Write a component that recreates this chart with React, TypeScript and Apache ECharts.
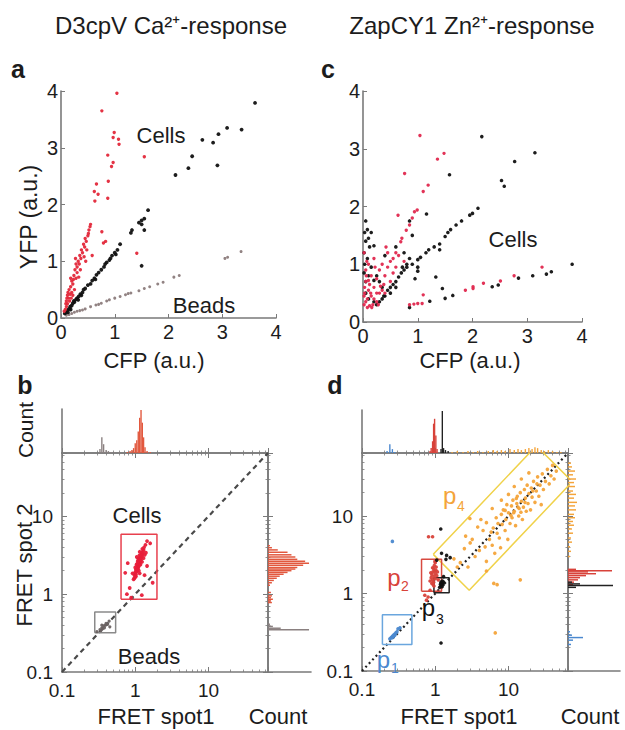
import React, { useEffect, useRef } from "react";
import * as echarts from "echarts";

const FONT = "'Liberation Sans', Arial, Helvetica, sans-serif";
const AX = "#7a7a7a";
const TXT = "#1c1c1c";

// ---------- Panel a: D3cpV, YFP vs CFP ----------
const A_RED: number[][] = [
  [1.04, 3.96], [0.76, 3.65], [0.99, 3.27], [0.97, 3.18], [1.07, 3.15], [1.08, 3.06], [1.55, 2.84],
  [0.87, 2.87], [0.97, 2.74], [0.94, 2.67], [0.66, 2.36], [0.88, 2.41], [0.62, 2.23], [0.69, 2.18],
  [0.63, 2.06], [0.87, 2.11], [0.54, 1.61], [0.51, 1.49], [0.76, 1.52], [0.79, 1.32], [0.83, 1.35],
  [1.41, 1.14], [0.55, 1.65], [0.52, 1.55], [0.5, 1.45], [0.48, 1.2], [0.47, 1.35], [0.45, 1.4],
  [0.44, 1.25], [0.42, 1.3], [0.4, 1.15], [0.38, 1.2], [0.37, 1.05], [0.35, 1.1], [0.36, 0.85],
  [0.34, 0.95], [0.32, 1.0], [0.3, 0.9], [0.3, 0.8], [0.28, 0.7], [0.28, 0.95], [0.27, 1.05],
  [0.26, 0.85], [0.25, 0.5], [0.24, 0.75], [0.22, 0.6], [0.22, 0.4], [0.2, 0.65], [0.2, 0.45],
  [0.18, 0.55], [0.18, 0.7], [0.16, 0.3], [0.15, 0.5], [0.14, 0.35], [0.13, 0.45], [0.12, 0.4],
  [0.12, 0.25], [0.1, 0.3], [0.1, 0.2], [0.09, 0.25], [0.08, 0.15], [0.06, 0.12], [0.11, 0.35],
  [0.17, 0.42], [0.23, 0.68], [0.33, 0.72], [0.43, 1.08], [0.46, 1.0], [0.58, 1.1], [0.19, 0.35],
];
const A_BLACK: number[][] = [
  [0.07, 0.08], [0.1, 0.1], [0.12, 0.14], [0.13, 0.1], [0.15, 0.16], [0.17, 0.2], [0.18, 0.15],
  [0.2, 0.22], [0.22, 0.26], [0.24, 0.3], [0.25, 0.28], [0.28, 0.33], [0.3, 0.35], [0.32, 0.32],
  [0.33, 0.38], [0.36, 0.42], [0.38, 0.4], [0.4, 0.45], [0.42, 0.5], [0.45, 0.52], [0.5, 0.58],
  [0.55, 0.6], [0.58, 0.66], [0.62, 0.7], [0.66, 0.76], [0.7, 0.8], [0.75, 0.85], [0.8, 0.9],
  [0.85, 0.98], [0.9, 1.02], [0.95, 1.1], [1.0, 1.15], [1.05, 1.2], [1.1, 1.3], [1.3, 1.5],
  [1.32, 1.55], [1.45, 1.68], [1.5, 1.72], [1.55, 1.75], [1.62, 1.9], [1.5, 1.65], [1.55, 1.55],
  [1.5, 0.92], [0.64, 0.68], [0.82, 0.95], [0.92, 1.05], [1.02, 1.12], [2.13, 2.52], [2.37, 2.64],
  [2.44, 2.85], [2.63, 3.14], [2.83, 3.09], [2.93, 3.24], [2.91, 2.69], [3.09, 3.35], [3.36, 3.32],
  [3.61, 3.79],
];
const A_BEADS: number[][] = [
  [0.1, 0.05], [0.15, 0.06], [0.2, 0.08], [0.25, 0.1], [0.3, 0.12], [0.35, 0.13], [0.4, 0.14],
  [0.45, 0.16], [0.55, 0.2], [0.65, 0.23], [0.7, 0.24], [0.75, 0.26], [0.85, 0.3], [0.9, 0.32],
  [1.0, 0.35], [1.1, 0.38], [1.2, 0.41], [1.25, 0.43], [1.3, 0.44], [1.45, 0.48], [1.55, 0.52],
  [1.65, 0.55], [1.8, 0.6], [1.9, 0.63], [2.1, 0.72], [2.2, 0.75], [3.05, 1.05], [3.1, 1.07],
  [3.35, 1.17],
];

// ---------- Panel c: ZapCY1, YFP vs CFP ----------
const C_RED: number[][] = [
  [1.04, 3.23], [1.48, 2.92], [1.36, 2.82], [0.76, 2.57], [1.19, 2.37], [1.1, 2.26], [0.99, 1.94],
  [0.94, 1.91], [0.64, 1.85], [0.9, 1.8], [0.85, 1.68], [0.79, 1.59], [0.69, 1.39], [0.71, 1.45],
  [3.27, 0.95], [2.76, 0.8], [2.51, 0.71], [2.2, 0.67], [2.01, 0.61], [2.01, 0.58], [1.87, 0.55],
  [1.1, 0.47], [1.08, 0.32], [1.0, 0.32], [0.93, 0.31], [0.85, 0.3], [0.02, 0.3], [0.05, 0.35],
  [0.08, 0.4], [0.03, 0.5], [0.1, 0.55], [0.15, 0.45], [0.2, 0.4], [0.25, 0.35], [0.12, 0.65],
  [0.05, 0.7], [0.2, 0.6], [0.3, 0.5], [0.35, 0.55], [0.4, 0.5], [0.15, 0.8], [0.25, 0.75],
  [0.05, 0.9], [0.1, 1.0], [0.3, 0.9], [0.4, 0.8], [0.45, 0.95], [0.5, 1.05], [0.55, 1.1],
  [0.35, 1.0], [0.2, 1.1], [0.02, 1.2], [0.08, 0.25], [0.18, 0.3], [0.28, 0.3], [0.12, 0.28],
  [0.5, 0.7], [0.55, 0.85], [0.6, 1.2], [0.45, 1.2], [0.03, 0.6], [0.06, 0.8], [0.22, 0.95],
  [0.38, 0.65], [0.14, 0.5], [0.25, 0.5], [0.65, 1.15], [0.6, 0.95], [0.75, 1.05], [0.02, 0.45],
  [0.07, 1.05], [0.16, 0.25], [0.32, 0.62], [0.42, 1.3], [0.1, 0.72],
];
const C_BLACK: number[][] = [
  [2.17, 3.21], [3.14, 2.93], [2.77, 2.78], [2.53, 2.45], [2.58, 2.35], [1.58, 2.55], [1.16, 1.87],
  [3.82, 1.0], [3.44, 0.87], [3.35, 0.83], [3.1, 0.8], [2.84, 0.76], [2.47, 0.64], [2.36, 0.61],
  [1.64, 0.46], [1.5, 0.41], [1.45, 0.58], [1.33, 0.78], [1.22, 0.36], [0.85, 0.25], [0.25, 0.3],
  [0.3, 0.35], [0.35, 0.4], [0.4, 0.45], [0.45, 0.55], [0.5, 0.6], [0.55, 0.65], [0.6, 0.7],
  [0.65, 0.78], [0.7, 0.85], [0.75, 0.9], [0.8, 0.95], [0.9, 1.0], [1.0, 1.08], [1.05, 1.12],
  [1.15, 1.2], [1.2, 1.25], [1.3, 1.3], [1.4, 1.35], [1.5, 1.48], [1.55, 1.55], [1.6, 1.6],
  [1.7, 1.68], [1.8, 1.75], [1.95, 1.85], [2.0, 1.88], [2.1, 1.97], [1.4, 1.25], [1.0, 0.95],
  [0.5, 0.5], [0.6, 0.6], [0.38, 0.45], [0.05, 1.75], [0.08, 1.6], [0.03, 1.55], [0.15, 1.55],
  [0.1, 1.45], [0.05, 1.4], [0.12, 1.3], [0.2, 1.32], [0.02, 1.2], [0.08, 1.1], [0.03, 1.0],
  [0.15, 0.95], [0.25, 0.8], [0.1, 0.8], [0.05, 0.7], [0.2, 0.72], [0.3, 0.7], [0.35, 0.6],
  [0.05, 0.5], [0.1, 0.4], [0.2, 0.35], [0.02, 0.85], [0.6, 1.3], [0.75, 1.2], [0.85, 1.1],
  [0.9, 1.5], [0.85, 1.75], [0.95, 0.75], [0.8, 1.0], [1.0, 0.88], [0.4, 1.15], [0.72, 0.95],
];

// ---------- Panel b: D3cpV FRET spot 1 vs spot 2 (log) ----------
const B_CELLS: number[][] = [
  [0.95, 1.55], [0.97, 1.6], [1.0, 1.65], [0.98, 1.75], [1.02, 1.8], [1.0, 1.9], [1.04, 1.95],
  [1.06, 2.0], [1.02, 2.05], [1.08, 2.1], [1.05, 2.15], [1.1, 2.2], [1.07, 2.25], [1.12, 2.3],
  [1.09, 2.35], [1.04, 2.4], [1.14, 2.4], [1.1, 2.5], [1.16, 2.55], [1.12, 2.6], [1.08, 2.65],
  [1.18, 2.7], [1.14, 2.75], [1.2, 2.8], [1.1, 2.85], [1.16, 2.9], [1.22, 2.95], [1.18, 3.0],
  [1.24, 3.1], [1.2, 3.2], [1.14, 3.15], [1.26, 3.3], [1.22, 3.4], [1.28, 3.5], [1.3, 3.7],
  [1.25, 3.8], [1.32, 4.0], [1.38, 4.3], [1.0, 2.2], [1.06, 2.45], [1.12, 2.0], [1.18, 2.4],
  [1.24, 2.6], [1.02, 1.7], [0.92, 1.85], [1.15, 3.5], [1.3, 2.9], [1.35, 3.2], [1.4, 3.4],
  [1.45, 2.3], [1.6, 4.5], [1.45, 4.8], [0.73, 1.88], [0.79, 2.5], [0.77, 1.0], [0.88, 0.9],
  [1.23, 0.97], [1.34, 1.75], [1.73, 1.4], [0.84, 1.2], [1.05, 3.0], [1.15, 1.85],
];
const B_BEADS: number[][] = [
  [0.3, 0.33], [0.33, 0.35], [0.35, 0.37], [0.36, 0.36], [0.37, 0.39], [0.38, 0.37], [0.4, 0.42],
  [0.42, 0.41], [0.44, 0.45], [0.35, 0.4], [0.45, 0.38], [0.34, 0.34], [0.39, 0.4], [0.92, 0.9],
];
const B_BOX_CELLS: number[][] = [[0.64, 0.86], [1.98, 0.86], [1.98, 5.9], [0.64, 5.9], [0.64, 0.86]];
const B_BOX_BEADS: number[][] = [[0.28, 0.32], [0.54, 0.32], [0.54, 0.59], [0.28, 0.59], [0.28, 0.32]];
// histograms: [bin centre, count]
const B_TOP_GREY: number[][] = [[0.33, 4], [0.35, 16], [0.37, 9], [0.4, 3], [0.43, 2], [0.47, 1], [0.52, 1], [0.6, 1]];
const B_TOP_RED: number[][] = [
  [0.78, 1], [0.85, 2], [0.9, 3], [0.95, 5], [1.0, 10], [1.05, 13], [1.1, 22], [1.15, 36],
  [1.2, 44], [1.25, 31], [1.3, 16], [1.36, 6], [1.45, 2], [1.6, 1],
];
const B_RIGHT_RED: number[][] = [
  [0.78, 4], [0.82, 3], [0.86, 5], [0.9, 3], [0.95, 4], [1.05, 3], [1.3, 2], [1.4, 4], [1.5, 6],
  [1.6, 9], [1.7, 12], [1.8, 16], [1.9, 20], [2.0, 24], [2.1, 28], [2.2, 30], [2.35, 36],
  [2.5, 42], [2.65, 38], [2.8, 30], [3.0, 28], [3.2, 24], [3.45, 20], [3.7, 10], [3.95, 4], [4.2, 2],
];
const B_RIGHT_GREY: number[][] = [[0.35, 42], [0.365, 13], [0.385, 5], [0.41, 2]];

// ---------- Panel d: ZapCY1 FRET spot 1 vs spot 2 (log) ----------
const D_P1: number[][] = [
  [0.24, 0.26], [0.25, 0.27], [0.26, 0.27], [0.26, 0.28], [0.27, 0.28], [0.28, 0.29], [0.28, 0.3],
  [0.3, 0.32], [0.31, 0.35], [0.33, 0.36], [0.29, 0.31], [0.27, 0.29], [0.26, 4.7],
];
const D_P2: number[][] = [
  [0.85, 1.45], [0.88, 1.6], [0.9, 1.75], [0.93, 1.9], [0.95, 2.1], [0.97, 2.3], [1.0, 2.5],
  [0.92, 1.5], [0.96, 1.65], [1.0, 1.8], [1.02, 2.0], [0.98, 1.95], [0.9, 1.35], [0.94, 1.3],
  [1.05, 1.7], [1.03, 2.2], [0.99, 2.6], [0.87, 1.85], [0.95, 1.4], [1.0, 1.55], [1.07, 1.9],
  [0.92, 2.15], [0.96, 1.25], [1.1, 1.5], [0.81, 5.4], [0.92, 5.4], [0.72, 0.95], [0.8, 0.9],
  [0.76, 0.82], [0.85, 1.1],
];
const D_P3: number[][] = [
  [1.15, 1.2], [1.2, 1.25], [1.22, 1.3], [1.25, 1.35], [1.2, 1.4], [1.28, 1.3], [1.18, 1.32],
  [1.24, 1.22], [1.3, 1.4], [1.25, 1.45], [1.19, 6.8], [1.22, 3.3], [1.43, 3.1], [1.4, 2.76],
  [1.6, 2.9], [1.3, 1.65], [1.2, 0.23], [1.05, 2.7],
];
const D_P4: number[][] = [
  [1.8, 2.8], [2.2, 2.5], [2.5, 3.8], [2.0, 2.2], [2.8, 2.2], [3.0, 4.5], [3.5, 3.0], [3.2, 5.0],
  [4.0, 3.6], [4.5, 6.5], [4.8, 4.0], [5.0, 8.2], [5.5, 5.0], [6.0, 4.2], [6.2, 7.0], [6.8, 9.5],
  [7.0, 6.0], [7.5, 5.2], [8.0, 10.5], [8.2, 7.8], [8.5, 12.0], [9.0, 6.5], [9.2, 9.0], [9.5, 14.0],
  [10.0, 11.0], [10.5, 8.0], [11.0, 13.5], [11.2, 9.5], [11.5, 16.0], [12.0, 11.5], [12.5, 7.5],
  [13.0, 14.5], [13.2, 18.0], [13.8, 10.0], [14.0, 12.5], [14.5, 20.0], [15.0, 15.5], [15.5, 9.0],
  [16.0, 13.0], [16.5, 22.0], [17.0, 17.0], [17.5, 11.5], [18.0, 25.0], [18.5, 14.5], [19.0, 19.5],
  [20.0, 12.0], [20.5, 23.0], [21.0, 17.5], [22.0, 28.0], [23.0, 15.0], [24.0, 21.0], [25.0, 32.0],
  [26.0, 18.0], [27.0, 25.0], [28.0, 14.0], [29.0, 35.0], [30.0, 22.0], [32.0, 28.0], [34.0, 40.0],
  [36.0, 26.0], [38.0, 33.0], [40.0, 45.0], [42.0, 30.0], [45.0, 38.0], [6.5, 3.3], [5.0, 2.6],
  [9.8, 5.0], [7.8, 3.9], [3.8, 7.2], [2.6, 5.5], [4.2, 9.0], [6.0, 12.5], [8.0, 16.0], [10.0, 19.0],
  [12.0, 24.0], [15.0, 30.0], [19.0, 36.0], [9.0, 11.8], [11.8, 11.0], [13.5, 13.0], [16.8, 15.0],
  [21.5, 21.0], [7.2, 8.0], [5.8, 6.2], [24.5, 26.0], [10.8, 10.2], [12.8, 16.8], [14.8, 11.2],
  [6.3, 1.35], [7.0, 1.3], [14.5, 1.5], [6.6, 0.31], [2.97, 9.3], [5.0, 1.95],
];
const D_BOX_P1: number[][] = [[0.19, 0.22], [0.48, 0.22], [0.48, 0.53], [0.19, 0.53], [0.19, 0.22]];
const D_BOX_P2: number[][] = [[0.65, 1.07], [1.22, 1.07], [1.22, 2.76], [0.65, 2.76], [0.65, 1.07]];
const D_BOX_P3: number[][] = [[0.96, 1.02], [1.55, 1.02], [1.55, 1.6], [0.96, 1.6], [0.96, 1.02]];
const D_BOX_P4: number[][] = [[0.94, 3.2], [2.91, 1.1], [74.5, 27.7], [24.0, 80.5], [0.94, 3.2]];
const D_TOP_BLUE: number[][] = [[0.22, 2], [0.24, 9], [0.26, 4], [0.28, 1]];
const D_TOP_RED: number[][] = [[0.85, 2], [0.88, 5], [0.92, 12], [0.95, 30], [0.98, 35], [1.02, 18], [1.06, 4]];
const D_TOP_BLACK: number[][] = [[1.2, 4], [1.25, 43], [1.3, 5], [1.38, 3], [1.5, 2]];
const D_TOP_ORANGE: number[][] = [
  [1.7, 1], [2.0, 2], [2.4, 1], [2.8, 2], [3.3, 1], [3.8, 2], [4.5, 1], [5.3, 2], [6.2, 3],
  [7.0, 2], [8.0, 3], [9.0, 2], [10.5, 4], [12, 3], [13.5, 4], [15, 3], [17, 4], [19, 5], [21, 4],
  [23, 6], [25, 5], [28, 3], [31, 2], [35, 3], [40, 2], [46, 1], [52, 1],
];
const D_RIGHT_BLUE: number[][] = [[0.22, 3], [0.25, 5], [0.27, 15], [0.29, 4], [0.32, 2]];
const D_RIGHT_RED: number[][] = [
  [1.3, 5], [1.4, 6], [1.5, 10], [1.6, 12], [1.7, 18], [1.8, 28], [1.9, 20], [1.97, 44], [2.05, 8],
];
const D_RIGHT_BLACK: number[][] = [[1.2, 8], [1.27, 45], [1.33, 12], [1.4, 4]];
const D_RIGHT_ORANGE: number[][] = [
  [3.0, 2], [3.5, 3], [4.0, 2], [4.6, 4], [5.2, 3], [6.0, 5], [6.8, 4], [7.6, 6], [8.5, 5],
  [9.5, 7], [10.5, 6], [12, 8], [13.5, 7], [15, 9], [17, 6], [19, 8], [21, 5], [24, 7], [27, 6],
  [30, 8], [34, 5], [38, 7], [43, 4], [48, 3],
];
const DIAGONAL: number[][] = [[0.1, 0.1], [65, 65]];
const LIN_MAX = 4;
const LOG_MIN = 0.1;
const LOG_MAX = 65;
const LOG_LABELS = [0.1, 1, 10];

const BIN_F = 1.022;

const logLabel = (v: number) => {
  const hit = LOG_LABELS.find((t) => Math.abs(Math.log10(v) - Math.log10(t)) < 1e-6);
  return hit === undefined ? "" : String(hit);
};

function linAx(gridIndex: number, isY: boolean) {
  return {
    type: "value", gridIndex, min: 0, max: LIN_MAX, interval: 1,
    axisLine: { show: true, onZero: false, lineStyle: { color: AX, width: 1.6 } },
    axisTick: { show: true, inside: true, length: 4, lineStyle: { color: AX, width: 1 } },
    axisLabel: { color: TXT, fontSize: 20, fontFamily: FONT, margin: isY ? 3 : 4 },
    splitLine: { show: false },
  };
}

function logAx(gridIndex: number, position: string, labels: boolean, ticks = true) {
  return {
    type: "log", logBase: 10, gridIndex, position, min: LOG_MIN, max: LOG_MAX,
    axisLine: { show: true, onZero: false, lineStyle: { color: AX, width: 1.6 } },
    axisTick: { show: ticks, inside: true, length: 5, lineStyle: { color: AX, width: 1 } },
    minorTick: { show: ticks, splitNumber: 9, length: 2.5, lineStyle: { color: AX, width: 0.8 } },
    axisLabel: { show: labels, formatter: logLabel, color: TXT, fontSize: 19, fontFamily: FONT, margin: 9 },
    splitLine: { show: false },
    minorSplitLine: { show: false },
  };
}

function cntAx(gridIndex: number, position: string, max: number) {
  return {
    type: "value", gridIndex, position, min: 0, max,
    axisLine: { show: true, onZero: false, lineStyle: { color: AX, width: 1.6 } },
    axisTick: { show: false },
    axisLabel: { show: false },
    splitLine: { show: false },
  };
}

function scatter(xi: number, yi: number, data: number[][], color: string, size = 3.6) {
  return {
    type: "scatter", xAxisIndex: xi, yAxisIndex: yi, data, symbolSize: size,
    itemStyle: { color, opacity: 0.95 }, silent: true, z: 5,
  };
}

function poly(xi: number, yi: number, data: number[][], color: string, width = 1.4, type: any = "solid") {
  return {
    type: "line", xAxisIndex: xi, yAxisIndex: yi, data, symbol: "none", clip: true,
    lineStyle: { color, width, type }, silent: true, z: 3,
  };
}

function histTop(xi: number, yi: number, data: number[][], color: string) {
  return {
    type: "custom", xAxisIndex: xi, yAxisIndex: yi, data, silent: true, z: 4,
    renderItem: (_p: any, api: any) => {
      const x = api.value(0);
      const c = api.value(1);
      const p0 = api.coord([x / BIN_F, 0]);
      const p1 = api.coord([x * BIN_F, c]);
      return {
        type: "rect",
        shape: { x: p0[0], y: p1[1], width: Math.max(p1[0] - p0[0], 1.2), height: p0[1] - p1[1] },
        style: { fill: color },
      };
    },
  };
}

function histRight(xi: number, yi: number, data: number[][], color: string) {
  return {
    type: "custom", xAxisIndex: xi, yAxisIndex: yi, data: data.map((d) => [d[1], d[0]]), silent: true, z: 4,
    renderItem: (_p: any, api: any) => {
      const c = api.value(0);
      const y = api.value(1);
      const p0 = api.coord([0, y / BIN_F]);
      const p1 = api.coord([c, y * BIN_F]);
      return {
        type: "rect",
        shape: { x: p0[0], y: p1[1], width: p1[0] - p0[0], height: Math.max(p0[1] - p1[1], 1.2) },
        style: { fill: color },
      };
    },
  };
}

function T(text: string, x: number, y: number, size: number, o: any = {}) {
  return {
    type: "text", x, y, rotation: o.rot || 0, silent: true, z: 100,
    style: {
      text, fontSize: size, fontFamily: FONT, fontWeight: o.bold ? "bold" : "normal",
      fill: o.color || TXT, align: o.align || "center", verticalAlign: "middle",
    },
  };
}

const RED_A = "#e3283a";
const RED_C = "#e0284e";
const GREY_BEAD = "#8c7c7c";
const HIST_RED = "#e2583e";
const HIST_GREY = "#8a8080";
const ORANGE = "#f4a43a";
const YELLOW = "#f0d24a";
const BLUE = "#4a88cf";
const BOX_BLUE = "#6aa6de";
const RED_D = "#d8423a";

function buildOption() {
  const grids = [
    { left: 61, top: 91, width: 215, height: 227 }, // 0 a
    { left: 363, top: 91, width: 219, height: 231 }, // 1 c
    { left: 62, top: 453, width: 206, height: 219 }, // 2 b main
    { left: 62, top: 409, width: 206, height: 44 }, // 3 b top hist
    { left: 268, top: 453, width: 43, height: 219 }, // 4 b right hist
    { left: 362, top: 453, width: 206, height: 218 }, // 5 d main
    { left: 362, top: 410, width: 206, height: 43 }, // 6 d top hist
    { left: 568, top: 453, width: 52, height: 218 }, // 7 d right hist
  ].map((g) => ({ ...g, containLabel: false, outerBoundsMode: "none", show: false }));

  const xAxis: any[] = [
    linAx(0, false), // 0
    linAx(1, false), // 1
    logAx(2, "bottom", true), // 2
    logAx(2, "top", false), // 3
    logAx(3, "bottom", false), // 4
    cntAx(4, "bottom", 44), // 5
    logAx(5, "bottom", true), // 6
    logAx(5, "top", false), // 7
    logAx(6, "bottom", false), // 8
    cntAx(7, "bottom", 52), // 9
  ];
  const yAxis: any[] = [
    linAx(0, true), // 0
    linAx(1, true), // 1
    logAx(2, "left", true), // 2
    logAx(2, "right", false), // 3
    cntAx(3, "left", 45), // 4
    logAx(4, "left", false), // 5
    logAx(5, "left", true), // 6
    logAx(5, "right", false), // 7
    cntAx(6, "left", 44), // 8
    logAx(7, "left", false), // 9
  ];

  const series: any[] = [
    // a
    scatter(0, 0, A_BEADS, GREY_BEAD, 3),
    scatter(0, 0, A_BLACK, "#111", 3.8),
    scatter(0, 0, A_RED, RED_A, 3.4),
    // c
    scatter(1, 1, C_BLACK, "#111", 3.6),
    scatter(1, 1, C_RED, RED_C, 3.4),
    // b main
    poly(2, 2, DIAGONAL, "#4a4a4a", 2.2, [5, 4]),
    poly(2, 2, B_BOX_CELLS, "#e8404e", 1.5),
    poly(2, 2, B_BOX_BEADS, "#8a8a8a", 1.5),
    scatter(2, 2, B_BEADS, "#6a6262", 3.2),
    scatter(2, 2, B_CELLS, "#e81e3a", 3.8),
    // b hists
    histTop(4, 4, B_TOP_GREY, HIST_GREY),
    histTop(4, 4, B_TOP_RED, HIST_RED),
    histRight(5, 5, B_RIGHT_RED, HIST_RED),
    histRight(5, 5, B_RIGHT_GREY, HIST_GREY),
    // d main
    poly(6, 6, DIAGONAL, "#222", 2.2, [2, 3]),
    poly(6, 6, D_BOX_P4, YELLOW, 1.5),
    poly(6, 6, D_BOX_P1, BOX_BLUE, 1.5),
    poly(6, 6, D_BOX_P2, "#d84a40", 1.5),
    poly(6, 6, D_BOX_P3, "#222", 1.5),
    scatter(6, 6, D_P4, ORANGE, 3.6),
    scatter(6, 6, D_P1, BLUE, 3.6),
    scatter(6, 6, D_P2, RED_D, 3.6),
    scatter(6, 6, D_P3, "#111", 3.6),
    // d hists
    histTop(8, 8, D_TOP_BLUE, BLUE),
    histTop(8, 8, D_TOP_RED, RED_D),
    histTop(8, 8, D_TOP_BLACK, "#222"),
    histTop(8, 8, D_TOP_ORANGE, ORANGE),
    histRight(9, 9, D_RIGHT_BLUE, BLUE),
    histRight(9, 9, D_RIGHT_RED, RED_D),
    histRight(9, 9, D_RIGHT_BLACK, "#222"),
    histRight(9, 9, D_RIGHT_ORANGE, ORANGE),
  ];

  const graphic: any[] = [
    T("D3cpV Ca²⁺-response", 171, 25, 24),
    T("ZapCY1 Zn²⁺-response", 472, 25, 24),
    T("a", 18, 69, 25, { bold: true }),
    T("c", 328, 69, 25, { bold: true }),
    T("b", 25, 385, 25, { bold: true }),
    T("d", 335, 385, 25, { bold: true }),
    T("YFP (a.u.)", 29, 217, 23, { rot: Math.PI / 2 }),
    T("CFP (a.u.)", 154, 360, 22),
    T("CFP (a.u.)", 470, 360, 22),
    T("Cells", 161, 135, 22),
    T("Beads", 204, 305, 22),
    T("Cells", 513, 239, 22),
    T("Count", 25, 430, 21, { rot: Math.PI / 2 }),
    T("FRET spot 2", 24, 565, 22, { rot: Math.PI / 2 }),
    T("Cells", 137, 515, 22),
    T("Beads", 149, 656, 22),
    T("FRET spot1", 156, 716, 22),
    T("Count", 278, 716, 22),
    T("FRET spot1", 459, 716, 22),
    T("Count", 590, 716, 22),
    T("p", 449.7, 495, 24, { color: ORANGE }),
    T("4", 461, 505.5, 14, { color: ORANGE }),
    T("p", 394, 577, 24, { color: RED_D }),
    T("2", 405, 586, 14, { color: RED_D }),
    T("p", 428.5, 607, 24, { color: "#111" }),
    T("3", 440, 619, 14, { color: "#111" }),
    T("p", 383.5, 659, 24, { color: BLUE }),
    T("1", 395, 668, 14, { color: BLUE }),
  ];

  return {
    animation: false,
    backgroundColor: "#ffffff",
    textStyle: { fontFamily: FONT },
    grid: grids,
    xAxis,
    yAxis,
    series,
    graphic,
  };
}

export default function App() {
  const ref = useRef<HTMLDivElement>(null);
  useEffect(() => {
    document.body.style.margin = "0";
    const chart = echarts.init(ref.current as HTMLDivElement, null, { renderer: "svg" });
    chart.setOption(buildOption() as any);
    return () => chart.dispose();
  }, []);
  return <div ref={ref} style={{ width: 625, height: 730, background: "#fff" }} />;
}
